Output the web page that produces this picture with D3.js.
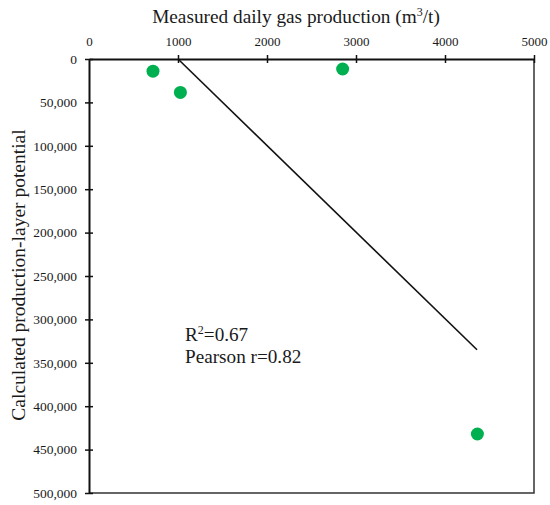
<!DOCTYPE html>
<html>
<head>
<meta charset="utf-8">
<script src="https://cdn.jsdelivr.net/npm/d3@7"></script>
<style>
  body { margin: 0; background: #fff; }
  svg text { font-family: "Liberation Serif", "Times New Roman", serif; fill: #1a1a1a; }
</style>
</head>
<body>
<div id="chart"></div>
<script>
// measured gas production (x) vs calculated potential (y)
var gasProd = [719, 1027, 2850, 4364];
var potential = [14000, 38500, 11500, 432000];
// linear trend line (clipped at y = 0)
var trendX = [1000, 4360];
var trendY = [0, 335000];
var xTicks = [0, 1000, 2000, 3000, 4000, 5000];
var yTicks = [0, 50000, 100000, 150000, 200000, 250000, 300000, 350000, 400000, 450000, 500000];
var statLines = ["R\u00b2=0.67", "Pearson r=0.82"];

var width = 550, height = 505;
var margin = {top: 59, right: 16, bottom: 12, left: 89};
var plotWidth = width - margin.left - margin.right;
var plotHeight = height - margin.top - margin.bottom;

var svg = d3.select('#chart').append('svg')
    .attr('width', width).attr('height', height);

var xs = d3.scaleLinear().domain([0, 5000]).range([0, plotWidth]);
var ys = d3.scaleLinear().domain([0, 500000]).range([0, plotHeight]);

var plotArea = svg.append('g')
    .attr('transform', 'translate(' + margin.left + ',' + margin.top + ')');

// right and bottom frame
plotArea.append('path')
    .attr('d', 'M' + xs(5000) + ',' + ys(0) + 'V' + ys(500000) + 'H' + xs(0))
    .attr('fill', 'none').attr('stroke', '#333').attr('stroke-width', 1.5);

// top axis
var xAxis = plotArea.append('g').attr('class', 'x-axis')
    .call(d3.axisTop(xs).tickValues(xTicks).tickFormat(d3.format('d'))
        .tickSizeInner(4).tickSizeOuter(0).tickPadding(9));
xAxis.attr('font-family', 'Liberation Serif');
xAxis.select('.domain').attr('stroke', '#111').attr('stroke-width', 2);
xAxis.selectAll('.tick line').attr('y2', 4).attr('y1', -4).attr('stroke', '#111').attr('stroke-width', 1.5);
xAxis.selectAll('.tick text').attr('font-size', 13);
xAxis.selectAll('.tick').filter(function(d){ return d === 0; }).select('line').remove();

// left axis
var yAxis = plotArea.append('g').attr('class', 'y-axis')
    .call(d3.axisLeft(ys).tickValues(yTicks).tickFormat(d3.format(','))
        .tickSizeInner(4).tickSizeOuter(0).tickPadding(8));
yAxis.attr('font-family', 'Liberation Serif');
yAxis.select('.domain').attr('stroke', '#111').attr('stroke-width', 2);
yAxis.selectAll('.tick line').attr('x1', 4).attr('x2', -4).attr('stroke', '#111').attr('stroke-width', 1.5);
yAxis.selectAll('.tick text').attr('font-size', 13.5);

// trend line
plotArea.append('path')
    .datum(d3.zip(trendX, trendY))
    .attr('d', d3.line().x(function(d){ return xs(d[0]); }).y(function(d){ return ys(d[1]); }))
    .attr('fill', 'none').attr('stroke', '#111').attr('stroke-width', 1.6);

// points
plotArea.selectAll('circle.pt').data(d3.zip(gasProd, potential)).enter().append('circle')
    .attr('class', 'pt')
    .attr('cx', function(d){ return xs(d[0]); })
    .attr('cy', function(d){ return ys(d[1]); })
    .attr('r', 6.5)
    .attr('fill', '#00b050');

// statistics text
var stat = plotArea.append('text')
    .attr('x', 96).attr('y', 282)
    .attr('font-size', 19.2);
stat.append('tspan').attr('x', 96).text('R');
stat.append('tspan').attr('font-size', 12).attr('dy', -7).text('2');
stat.append('tspan').attr('dy', 7).text('=0.67');
stat.append('tspan').attr('x', 96).attr('dy', 22).text(statLines[1]);

// titles
var title = svg.append('text')
    .attr('x', 296).attr('y', 23)
    .attr('text-anchor', 'middle')
    .attr('font-size', 19.3);
title.append('tspan').text('Measured daily gas production  (m');
title.append('tspan').attr('font-size', 12).attr('dy', -7).text('3');
title.append('tspan').attr('dy', 7).text('/t)');

svg.append('text')
    .attr('transform', 'translate(25,275) rotate(-90)')
    .attr('text-anchor', 'middle')
    .attr('font-size', 19.5)
    .text('Calculated production-layer potential');
</script>
</body>
</html>
